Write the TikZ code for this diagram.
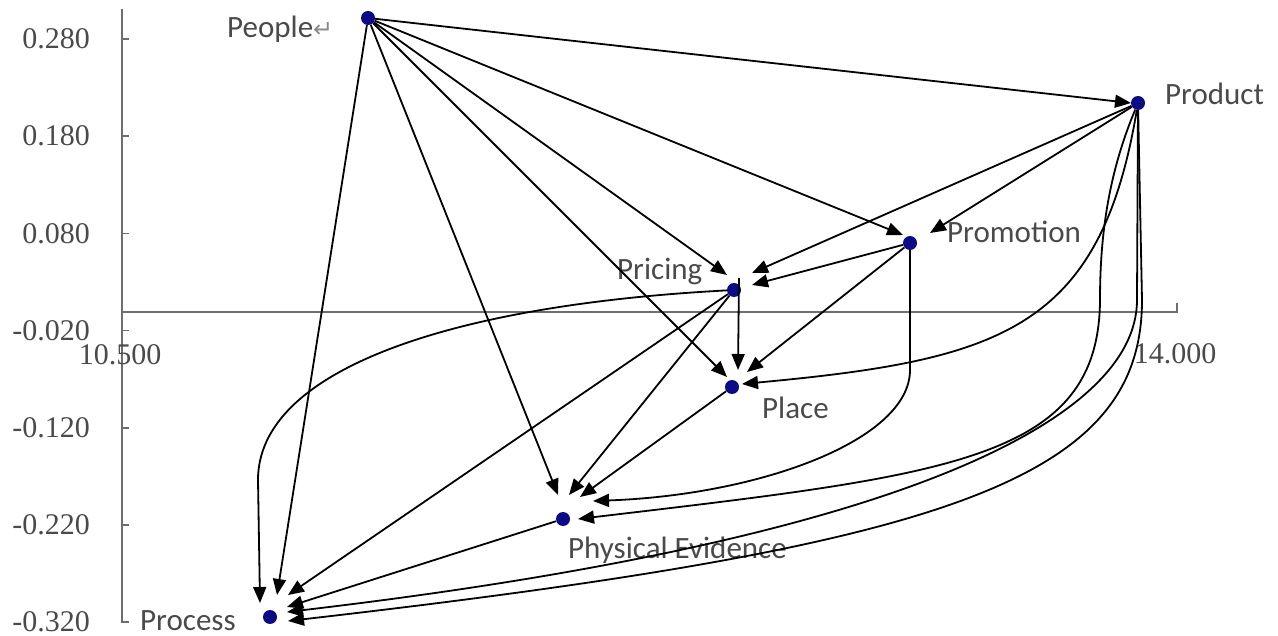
\documentclass[tikz,border=0pt]{standalone}
\usepackage{fontspec}
\setmainfont{Liberation Serif}
\newfontfamily\labelfont{Carlito}
\newfontfamily\symfont{DejaVu Sans}
\usetikzlibrary{calc}
\usetikzlibrary{arrows.meta}
\definecolor{dotBlue}{HTML}{0B0B85}
\definecolor{axisGray}{HTML}{6E6E6E}
\definecolor{textGray}{HTML}{4A4A4A}
\tikzset{
    dot/.style={circle,fill=dotBlue,inner sep=0pt,minimum size=14pt},
    lbl/.style={font=\labelfont\fontsize{31}{33}\selectfont,text=textGray,inner sep=0pt,anchor=base west},
    ticklbl/.style={font=\fontsize{30}{32}\selectfont,text=textGray,inner sep=0pt},
    axisline/.style={draw=axisGray,line width=1.5pt},
    edge/.style={draw=black,line width=1.8pt,-{Triangle[length=16pt,width=13pt]}}
}

\begin{document}
\begin{tikzpicture}[x=1pt,y=-1pt]
  \useasboundingbox (0,0) rectangle (1278,636);

  % axes and tick labels
  \draw[axisline] (122,9) -- (122,622) -- (129,622);
  \draw[axisline] (122,312) -- (1177,312) -- (1177,303);
  \foreach \v [count=\i from 0] in {0.280,0.180,0.080,-0.020,-0.120,-0.220,-0.320}{
    \draw[axisline] (122,39+\i*97.2) -- (129,39+\i*97.2);
    \node[ticklbl,anchor=east] (tick\i) at (90,39+\i*97.2) {\v};
  }
  \node[ticklbl] (xmin) at (120,355) {10.500};
  \node[ticklbl] (xmax) at (1175,354) {14.000};

  % the seven points
  \node[dot] (people)    at (368,18)  {};
  \node[dot] (product)   at (1138,103) {};
  \node[dot] (promotion) at (910,243) {};
  \node[dot] (pricing)   at (734,290) {};
  \node[dot] (place)     at (732,387) {};
  \node[dot] (evidence)  at (563,519) {};
  \node[dot] (process)   at (270,617) {};

  % labels
  \node[lbl] (peopleLbl)    at (227,38)  {People{\symfont\fontsize{24}{24}\selectfont\color{black!45}↵}};
  \node[lbl] (productLbl)   at (1165,105) {Product};
  \node[lbl] (promotionLbl) at (947,243) {Promotion};
  \node[lbl] (pricingLbl)   at (617,280) {Pricing};
  \node[lbl] (placeLbl)     at (762,418) {Place};
  \node[lbl] (evidenceLbl)  at (568,558) {Physical Evidence};
  \node[lbl] (processLbl)   at (140,630) {Process};

  % from People
  \draw[edge] (people) -- ($(product)+(-7,0)$);
  \draw[edge] (people) -- ($(promotion)+(-7,-8)$);
  \draw[edge] (people) -- ($(pricing)+(-7,-15)$);
  \draw[edge] (people) -- ($(place)+(-5,-10)$);
  \draw[edge] (people) -- ($(evidence)+(-5,-24)$);
  \draw[edge] (people) -- ($(process)+(7,-22)$);

  % from Product
  \draw[edge] (product) -- ($(promotion)+(20,-10)$);
  \draw[edge] (product) -- ($(pricing)+(18,-17)$);
  \draw[edge] (product) .. controls (1100,330) and (1000,360) .. ($(place)+(10,-3)$);
  \draw[edge] (product) .. controls (1110,170) and (1100,230) .. (1100,300)
      .. controls (1099,460) and (950,475) .. ($(evidence)+(15,0)$);
  \draw[edge] (product) -- (1137,300) .. controls (1137,420) and (900,540) .. ($(process)+(17,-5)$);
  \draw[edge] (product) -- (1142,300) .. controls (1142,480) and (950,545) .. ($(process)+(18,4)$);

  % from Promotion
  \draw[edge] (promotion) -- ($(pricing)+(18,-5)$);
  \draw[edge] (promotion) -- ($(place)+(15,-15)$);
  \draw[edge] (promotion) -- (910,370) .. controls (910,440) and (760,495) .. ($(evidence)+(30,-18)$);

  % from Pricing
  \draw[edge] ($(pricing)+(5,-12)$) -- ($(place)+(6,-17)$);
  \draw[edge] (pricing) -- ($(evidence)+(6,-24)$);
  \draw[edge] (pricing) -- ($(process)+(18,-22)$);
  \draw[edge] (pricing) .. controls (450,305) and (258,370) .. (258,480) -- ($(process)+(-10,-14)$);

  % from Place and Physical Evidence
  \draw[edge] (place) -- ($(evidence)+(17,-22)$);
  \draw[edge] (evidence) -- ($(process)+(17,-10)$);
\end{tikzpicture}
\end{document}
